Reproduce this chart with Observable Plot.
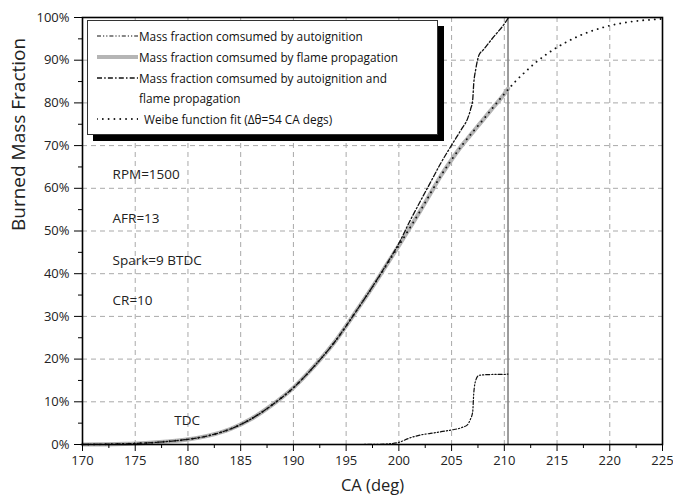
<!DOCTYPE html>
<html>
<head>
<meta charset="utf-8">
<script src="https://cdn.jsdelivr.net/npm/d3@7"></script>
<script src="https://cdn.jsdelivr.net/npm/@observablehq/plot@0.6"></script>
<style>
  body { margin: 0; background: #fff; }
  #wrap { position: relative; width: 673px; height: 502px; font-family: "Open Sans", sans-serif; }
  .legend {
    position: absolute; left: 87px; top: 20px; width: 351px; height: 115px;
    box-sizing: border-box; border: 1px solid #333; background: #fff;
    box-shadow: 6px 6px 0 #000; padding-top: 5px;
  }
  .row { display: flex; align-items: center; height: 20.7px; font-size: 11.8px; color: #111; white-space: nowrap; }
  .row svg { margin-left: 9px; margin-right: 1px; flex: none; }
</style>
</head>
<body>
<div id="wrap"></div>
<script>
// Crank angle samples (deg) shared by the three measured curves
const ca = [170,172,174,176,178,180,182,184,186,188,190,192,194,196,198,199,200,201,202,203,204,205,206,206.5,206.8,207,207.1,207.3,207.6,208,209,210,210.35];

// Burned mass fraction (%) consumed by flame propagation
const flame = [0,0.05,0.15,0.35,0.7,1.2,2.1,3.6,6.0,9.3,13.3,18.4,24.3,31.4,38.8,42.7,46.6,50.6,54.6,58.8,63.0,66.7,70.1,71.6,72.5,73.1,73.4,74.0,74.9,76.1,79.1,82.1,83.3];

// Burned mass fraction (%) consumed by autoignition
const autoign = [0,0,0,0,0,0,0,0,0,0,0,0,0,0,0.05,0.15,0.5,1.5,2.2,2.6,3.0,3.4,4.0,4.6,6.0,7.6,11.9,15.1,16.2,16.3,16.4,16.4,16.5];

// Burned mass fraction (%) consumed by autoignition and flame propagation
const combined = [0,0.05,0.15,0.35,0.7,1.2,2.1,3.6,6.0,9.3,13.3,18.4,24.3,31.4,38.9,42.9,47.1,52.1,56.8,61.4,66.0,70.1,74.1,76.2,78.5,80.7,84.5,88.0,91.2,92.4,95.5,98.5,99.8];

// Weibe function fit, sampled out to the end of the axis
const weibeCa = [170,172,174,176,178,180,182,184,186,188,190,192,194,196,198,200,202,204,206,208,210,211,212,213,214,215,216,217,218,219,220,221,222,223,224,225];
const weibe = [0,0.05,0.15,0.35,0.7,1.2,2.1,3.6,6.0,9.3,13.3,18.4,24.3,31.4,38.8,46.6,54.6,63.0,70.1,76.1,82.1,84.9,87.3,89.5,91.4,93.0,94.4,95.6,96.6,97.4,98.1,98.6,99.0,99.3,99.5,99.7];

// End of the measured cycle (deg)
const cycleEnd = [210.35];

// Axis ticks
const xTicks = [170,175,180,185,190,195,200,205,210,215,220,225];
const xMinor = [172.5,177.5,182.5,187.5,192.5,197.5,202.5,207.5,212.5,217.5,222.5];
const yTicks = [0,10,20,30,40,50,60,70,80,90,100];
const yMinor = [5,15,25,35,45,55,65,75,85,95];

// Operating-condition notes
const noteText = ["RPM=1500", "AFR=13", "Spark=9 BTDC", "CR=10"];
const noteX = [172.85, 172.85, 172.85, 172.85];
const noteY = [63.1, 53.0, 43.1, 33.7];
const tdcText = ["TDC"];
const tdcX = [178.7];
const tdcY = [5.5];

// Legend entries
const legendLabels = [
  "Mass fraction comsumed by autoignition",
  "Mass fraction comsumed by flame propagation",
  "Mass fraction comsumed by autoignition and",
  "flame propagation",
  "Weibe function fit (\u0394\u03b8=54 CA degs)"
];

const styles = {
  auto: {stroke: "#111", strokeWidth: 1.2, strokeDasharray: "4,2,1.2,2,1.2,2"},
  flame: {stroke: "#b5b5b5", strokeWidth: 4.2},
  combined: {stroke: "#111", strokeWidth: 1.3, strokeDasharray: "5,2.2,1.5,2.2"},
  none: null,
  weibe: {stroke: "#111", strokeWidth: 1.9, strokeDasharray: "0.01,5.8", strokeLinecap: "round"}
};
const legendStyles = [styles.auto, styles.flame, styles.combined, styles.none, styles.weibe];

const chart = Plot.plot({
  width: 673,
  height: 502,
  marginLeft: 82,
  marginRight: 11,
  marginTop: 17,
  marginBottom: 58,
  style: {fontFamily: '"Open Sans", sans-serif', fontSize: "13px", background: "#fff", color: "#222"},
  x: {domain: [170, 225]},
  y: {domain: [0, 100]},
  marks: [
    // dashed grid at the major ticks
    Plot.ruleX(xTicks.slice(1, -1), {stroke: "#a9a9a9", strokeWidth: 1, strokeDasharray: "5,4"}),
    Plot.ruleY(yTicks.slice(1, -1), {stroke: "#a9a9a9", strokeWidth: 1, strokeDasharray: "5,4"}),
    Plot.ruleX(cycleEnd, {stroke: "#858585", strokeWidth: 1.6}),
    Plot.line(ca, {x: ca, y: flame, ...styles.flame, curve: "monotone-x"}),
    Plot.line(weibeCa, {x: weibeCa, y: weibe, ...styles.weibe, curve: "monotone-x"}),
    Plot.line(ca, {x: ca, y: combined, ...styles.combined, curve: "monotone-x"}),
    Plot.line(ca, {x: ca, y: autoign, ...styles.auto, curve: "monotone-x"}),
    Plot.text(noteText, {x: noteX, y: noteY, text: d => d, textAnchor: "start", fontSize: 13.5, fill: "#222"}),
    Plot.text(tdcText, {x: tdcX, y: tdcY, text: d => d, textAnchor: "start", fontSize: 13.5, fill: "#222"}),
    Plot.axisX(xTicks, {tickSize: 7, tickPadding: 4, label: null, fontSize: 13, fill: "#222", stroke: "#000"}),
    Plot.axisX(xMinor, {tickSize: 4, fill: "none", label: null, stroke: "#000"}),
    Plot.axisY(yTicks, {tickSize: 8, tickPadding: 5, label: null, fontSize: 13, fill: "#222", stroke: "#000", tickFormat: d => d + "%"}),
    Plot.axisY(yMinor, {tickSize: 4, fill: "none", label: null, stroke: "#000"}),
    Plot.text(["CA (deg)"], {frameAnchor: "bottom", dy: 46, fontSize: 16.5, fill: "#222"}),
    Plot.text(["Burned Mass Fraction"], {frameAnchor: "left", dx: -64, rotate: -90, fontSize: 19, fill: "#222"}),
    Plot.frame({stroke: "#000", strokeWidth: 1.6})
  ]
});

const wrap = document.getElementById("wrap");
wrap.appendChild(chart);

// Legend box drawn over the plot area
const legend = document.createElement("div");
legend.className = "legend";
legendLabels.forEach((label, i) => {
  const row = document.createElement("div");
  row.className = "row";
  const svg = d3.create("svg").attr("width", 41).attr("height", 8);
  const s = legendStyles[i];
  if (s) {
    svg.append("line")
      .attr("x1", 0).attr("x2", 41).attr("y1", 4).attr("y2", 4)
      .attr("stroke", s.stroke)
      .attr("stroke-width", s.strokeWidth)
      .attr("stroke-linecap", s.strokeLinecap || null)
      .attr("stroke-dasharray", s.strokeDasharray || null);
  }
  row.appendChild(svg.node());
  const span = document.createElement("span");
  span.textContent = label;
  if (i === 4) span.style.marginLeft = "5px";
  row.appendChild(span);
  legend.appendChild(row);
});
wrap.appendChild(legend);
</script>
</body>
</html>
